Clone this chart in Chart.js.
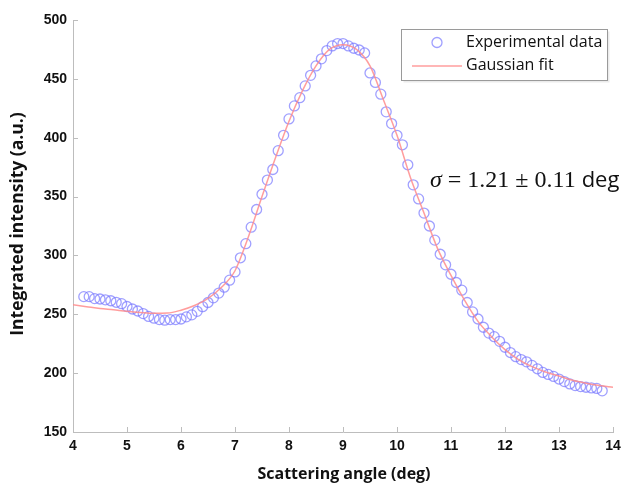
<!DOCTYPE html>
<html>
<head>
<meta charset="utf-8">
<style>
  html, body { margin: 0; padding: 0; background: #ffffff; }
  #wrap { width: 637px; height: 483px; position: relative; }
</style>
<script src="https://cdn.jsdelivr.net/npm/chart.js@4.4.1/dist/chart.umd.min.js"></script>
</head>
<body>
<div id="wrap"><canvas id="chart" width="637" height="483"></canvas></div>
<script>
// Measured scattering angles (deg)
const angleDeg = [
  4.2, 4.3, 4.4, 4.5, 4.6, 4.7, 4.8, 4.9, 5.0, 5.1,
  5.2, 5.3, 5.4, 5.5, 5.6, 5.7, 5.8, 5.9, 6.0, 6.1,
  6.2, 6.3, 6.4, 6.5, 6.6, 6.7, 6.8, 6.9, 7.0, 7.1,
  7.2, 7.3, 7.4, 7.5, 7.6, 7.7, 7.8, 7.9, 8.0, 8.1,
  8.2, 8.3, 8.4, 8.5, 8.6, 8.7, 8.8, 8.9, 9.0, 9.1,
  9.2, 9.3, 9.4, 9.5, 9.6, 9.7, 9.8, 9.9, 10.0, 10.1,
  10.2, 10.3, 10.4, 10.5, 10.6, 10.7, 10.8, 10.9, 11.0, 11.1,
  11.2, 11.3, 11.4, 11.5, 11.6, 11.7, 11.8, 11.9, 12.0, 12.1,
  12.2, 12.3, 12.4, 12.5, 12.6, 12.7, 12.8, 12.9, 13.0, 13.1,
  13.2, 13.3, 13.4, 13.5, 13.6, 13.7, 13.8
];
// Integrated intensity at each angle (a.u.)
const intensity = [
  265, 265, 263.3, 263, 262.3, 261.5, 260.2, 259, 256.6, 254.5,
  252.8, 250.6, 248.2, 246.7, 245.5, 245, 245.5, 245.5, 246, 247.8,
  249.5, 252.5, 256.5, 260, 264, 268, 273, 279, 286, 298,
  310, 324, 339, 352, 364, 373, 389, 402, 416, 427,
  434, 444, 453, 461, 467, 474, 478, 480, 480, 478,
  476, 474.5, 472, 455, 447, 437, 422, 412, 402, 394,
  377, 360, 348, 336, 325, 313, 301, 292, 284, 277,
  270.5, 260, 252, 246, 239, 234, 231, 227, 222, 217.5,
  214, 211.5, 209.6, 206.6, 203.7, 200.6, 198.9, 197.2, 195, 192.8,
  190.8, 189.4, 188.6, 188, 187.4, 187, 185
];
// Gaussian fit curve, sampled every 0.25 deg
const fitAngle = [
  4.0, 4.25, 4.5, 4.75, 5.0, 5.25, 5.5, 5.75, 6.0, 6.25,
  6.5, 6.75, 7.0, 7.25, 7.5, 7.75, 8.0, 8.25, 8.5, 8.75,
  9.0, 9.25, 9.5, 9.75, 10.0, 10.25, 10.5, 10.75, 11.0, 11.25,
  11.5, 11.75, 12.0, 12.25, 12.5, 12.75, 13.0, 13.25, 13.5, 13.75, 14.0
];
const fitIntensity = [
  258, 256.5, 255, 253.8, 252.5, 251.5, 250.8, 251, 253.5, 257.5,
  263.5, 273, 287, 316, 350, 383, 414, 440, 461, 475,
  479, 475, 461, 432, 402, 366, 336, 306, 283, 262,
  244, 231, 220, 211.5, 205.5, 201, 197.5, 194, 191.5, 189.5, 188
];
const xTicks = [4, 5, 6, 7, 8, 9, 10, 11, 12, 13, 14];
const yTicks = [150, 200, 250, 300, 350, 400, 450, 500];

const seriesNames = ['Experimental data', 'Gaussian fit'];
const xTitle = 'Scattering angle (deg)';
const yTitle = 'Integrated intensity (a.u.)';

const pointColor = 'rgba(120,120,255,0.7)';
const fitColor = 'rgba(255,140,140,0.85)';
const axisColor = '#bdbdbd';
const textColor = '#111111';

// Small tick marks pointing into the plot area
const inwardTicks = {
  id: 'inwardTicks',
  afterDraw(chart) {
    const { ctx, chartArea, scales } = chart;
    ctx.save();
    ctx.strokeStyle = axisColor;
    ctx.lineWidth = 1;
    ctx.beginPath();
    scales.x.ticks.forEach(t => {
      const px = Math.round(scales.x.getPixelForValue(t.value)) + 0.5;
      ctx.moveTo(px, chartArea.bottom);
      ctx.lineTo(px, chartArea.bottom - 5);
    });
    scales.y.ticks.forEach(t => {
      const py = Math.round(scales.y.getPixelForValue(t.value)) + 0.5;
      ctx.moveTo(chartArea.left, py);
      ctx.lineTo(chartArea.left + 5, py);
    });
    ctx.stroke();
    ctx.restore();
  }
};

// Axis titles, legend box and sigma annotation
const decorations = {
  id: 'decorations',
  afterDraw(chart) {
    const { ctx, chartArea } = chart;
    ctx.save();
    ctx.fillStyle = textColor;

    // axis titles
    ctx.textAlign = 'center';
    ctx.textBaseline = 'middle';
    ctx.font = 'bold 16px "Open Sans", sans-serif';
    ctx.fillText(xTitle, 344, 474);
    ctx.save();
    ctx.translate(18, 224);
    ctx.rotate(-Math.PI / 2);
    ctx.font = 'bold 17.5px "Open Sans", sans-serif';
    ctx.fillText(yTitle, 0, 0);
    ctx.restore();

    // legend
    const bx = 401.5, by = 29.5, bw = 206, bh = 51;
    ctx.fillStyle = 'rgba(0,0,0,0.08)';
    ctx.fillRect(bx + 2, by + 2, bw, bh);
    ctx.fillStyle = '#ffffff';
    ctx.fillRect(bx, by, bw, bh);
    ctx.strokeStyle = '#9a9a9a';
    ctx.lineWidth = 1;
    ctx.strokeRect(bx, by, bw, bh);

    const ptDs = chart.data.datasets[1];
    const fitDs = chart.data.datasets[0];
    ctx.strokeStyle = ptDs.borderColor;
    ctx.lineWidth = ptDs.borderWidth;
    ctx.beginPath();
    ctx.arc(437, 42.5, 5, 0, Math.PI * 2);
    ctx.stroke();

    ctx.strokeStyle = fitDs.borderColor;
    ctx.lineWidth = fitDs.borderWidth;
    ctx.beginPath();
    ctx.moveTo(412, 66);
    ctx.lineTo(462, 66);
    ctx.stroke();

    ctx.fillStyle = textColor;
    ctx.font = '16px "Open Sans", sans-serif';
    ctx.textAlign = 'left';
    ctx.textBaseline = 'middle';
    ctx.fillText(ptDs.label, 466, 42);
    ctx.fillText(fitDs.label, 466, 65);

    // width annotation
    ctx.textBaseline = 'alphabetic';
    let x = 430;
    const y = 187;
    ctx.font = 'italic 24px "Liberation Serif", serif';
    ctx.fillText('σ', x, y);
    x += ctx.measureText('σ').width;
    ctx.font = '24px "Liberation Serif", serif';
    const rest = ' = 1.21 ± 0.11 ';
    ctx.fillText(rest, x, y);
    x += ctx.measureText(rest).width;
    ctx.font = '22px "Open Sans", sans-serif';
    ctx.fillText('deg', x, y);
    ctx.restore();
  }
};

new Chart(document.getElementById('chart'), {
  type: 'scatter',
  data: {
    datasets: [
      {
        label: seriesNames[1],
        data: fitAngle.map((a, i) => ({ x: a, y: fitIntensity[i] })),
        showLine: true,
        borderColor: fitColor,
        borderWidth: 1.5,
        pointRadius: 0,
        cubicInterpolationMode: 'monotone',
        fill: false,
        order: 0
      },
      {
        label: seriesNames[0],
        data: angleDeg.map((a, i) => ({ x: a, y: intensity[i] })),
        showLine: false,
        pointStyle: 'circle',
        pointRadius: 5,
        borderColor: pointColor,
        borderWidth: 1.3,
        backgroundColor: 'rgba(0,0,0,0)',
        order: 1
      }
    ]
  },
  options: {
    responsive: false,
    animation: false,
    devicePixelRatio: 1,
    layout: { padding: { left: 0, right: 24, top: 20, bottom: 0 } },
    plugins: {
      legend: { display: false },
      tooltip: { enabled: false }
    },
    scales: {
      x: {
        type: 'linear',
        min: 4,
        max: 14,
        afterBuildTicks(scale) { scale.ticks = xTicks.map(v => ({ value: v })); },
        afterFit(scale) { scale.height = 51; },
        grid: { display: false, drawTicks: false },
        border: { display: true, color: axisColor, width: 1 },
        ticks: {
          padding: 6,
          color: textColor,
          font: { family: '"Liberation Sans", Arial, sans-serif', size: 14, weight: 'bold' }
        }
      },
      y: {
        type: 'linear',
        min: 150,
        max: 500,
        afterBuildTicks(scale) { scale.ticks = yTicks.map(v => ({ value: v })); },
        afterFit(scale) { scale.width = 73; },
        grid: { display: false, drawTicks: false },
        border: { display: true, color: axisColor, width: 1 },
        ticks: {
          padding: 6,
          color: textColor,
          font: { family: '"Liberation Sans", Arial, sans-serif', size: 14, weight: 'bold' }
        }
      }
    }
  },
  plugins: [inwardTicks, decorations]
});
</script>
</body>
</html>
